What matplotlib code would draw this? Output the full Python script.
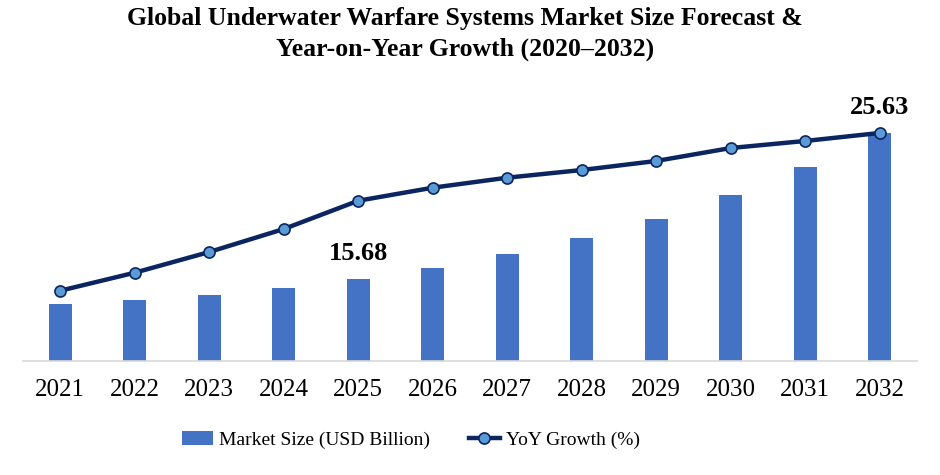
import numpy as np
import matplotlib
matplotlib.use("Agg")
import matplotlib.pyplot as plt

years = ["2021", "2022", "2023", "2024", "2025", "2026",
         "2027", "2028", "2029", "2030", "2031", "2032"]
market_size = [13.97, 14.25, 14.59, 15.06, 15.68, 16.43,
               17.38, 18.47, 19.77, 21.40, 23.31, 25.63]
yoy_growth = [8.08, 10.15, 12.53, 15.17, 18.42, 19.92,
              21.07, 21.95, 22.99, 24.48, 25.29, 26.21]
labelled = {"2025": 15.68, "2032": 25.63}

BAR = "#4472C4"
LINE = "#0B2560"
MARK = "#5B9BD5"
SERIF = "Liberation Serif"

fig = plt.figure(figsize=(9.4, 4.75), dpi=100)
ax = fig.add_axes([0.0245, 0.24, 0.951, 0.5495])
x = np.arange(len(years))

bars = ax.bar(x, market_size, width=0.31, color=BAR, zorder=2,
              label="Market Size (USD Billion)")
ax.set_xlim(-0.5, len(years) - 0.5)
ax.set_ylim(10.09, 27.88)
ax.set_yticks([])
for s in ["top", "right", "left"]:
    ax.spines[s].set_visible(False)
ax.spines["bottom"].set_color("#D9D9D9")
ax.spines["bottom"].set_linewidth(1.2)
ax.set_xticks(x)
ax.set_xticklabels(years, fontfamily=SERIF, fontsize=18)
ax.tick_params(axis="x", length=0, pad=13)

for i, yr in enumerate(years):
    if yr in labelled:
        ax.annotate(f"{labelled[yr]:.2f}", (x[i], market_size[i]),
                    xytext=(0, 10), textcoords="offset points",
                    ha="center", va="bottom", fontfamily=SERIF,
                    fontsize=19, fontweight="bold", zorder=5)

ax2 = ax.twinx()
ax2.set_ylim(0, 30)
ax2.axis("off")
line, = ax2.plot(x, yoy_growth, color=LINE, lw=3.2, marker="o", ms=8,
                 mfc=MARK, mec=LINE, mew=1.2, zorder=3,
                 label="YoY Growth (%)")

fig.suptitle("Global Underwater Warfare Systems Market Size Forecast &\n"
             "Year-on-Year Growth (2020\u20132032)",
             x=0.495, y=0.985, va="top", fontfamily=SERIF, fontsize=18.5,
             fontweight="bold", linespacing=1.4)

fig.legend([bars, line], ["Market Size (USD Billion)", "YoY Growth (%)"],
           loc="center", bbox_to_anchor=(0.437, 0.073), ncol=2,
           frameon=False, prop={"family": SERIF, "size": 14},
           handlelength=1.6, handletextpad=0.3, columnspacing=2.0)

fig.savefig("out.png", dpi=100)
